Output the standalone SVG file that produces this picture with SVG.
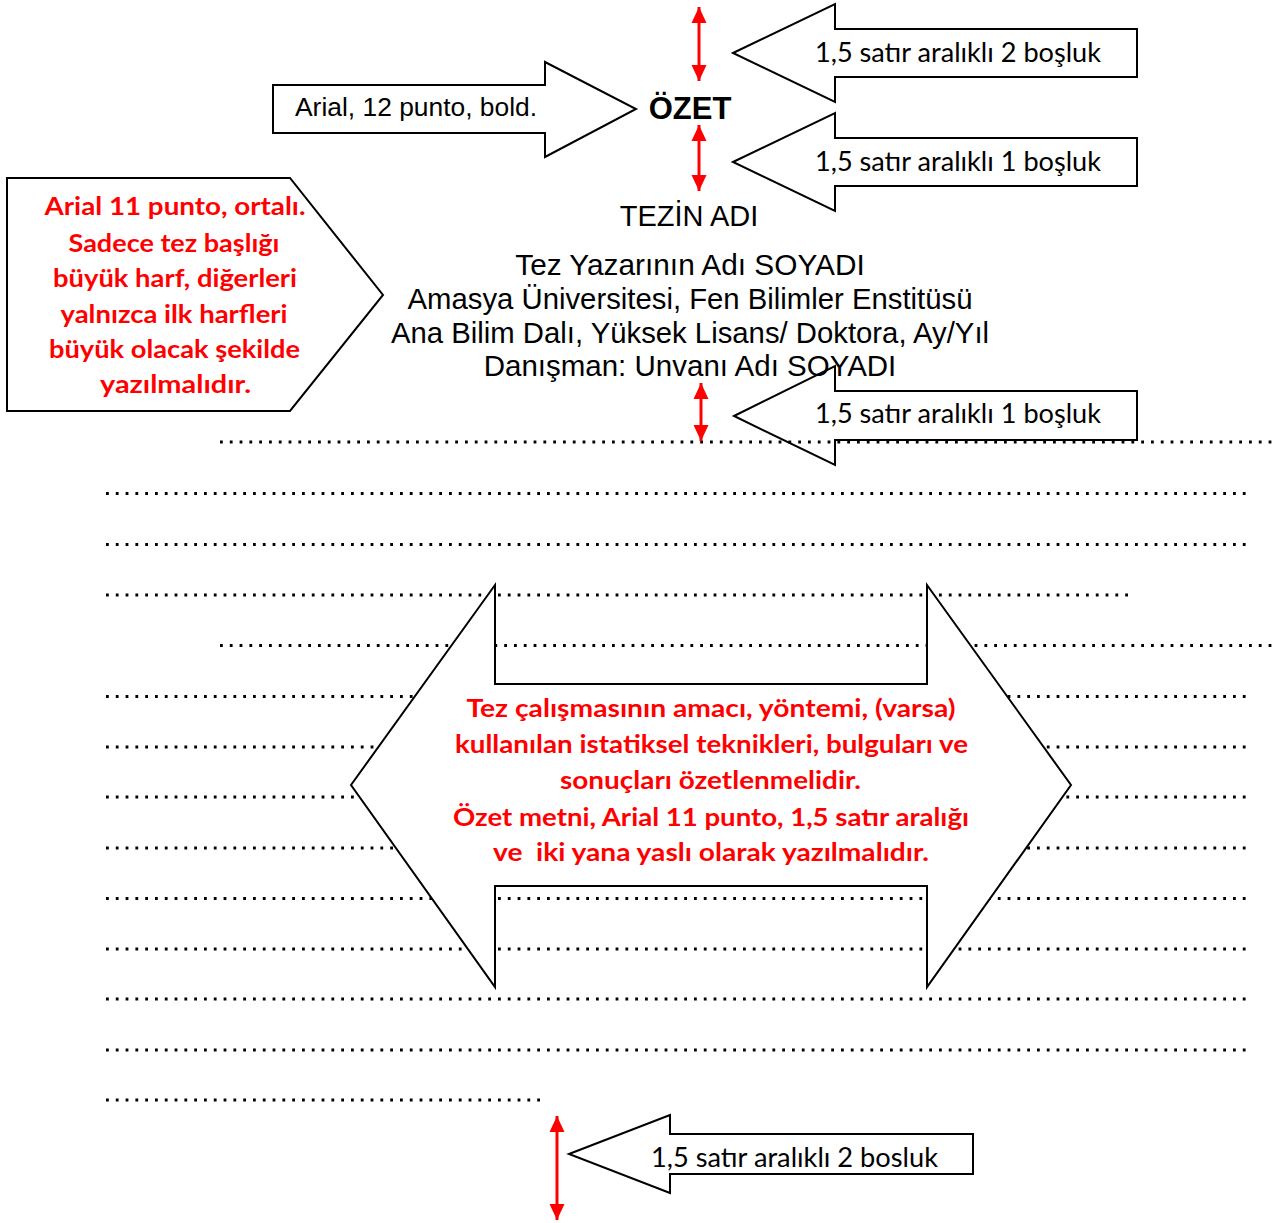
<svg xmlns="http://www.w3.org/2000/svg" width="1276" height="1223" viewBox="0 0 1276 1223">
<defs>
<style>
.shape{fill:#fff;stroke:#000;stroke-width:2;stroke-linejoin:miter}
.open{fill:none;stroke:#000;stroke-width:2}
.dots{stroke:#000;stroke-width:2.8;stroke-dasharray:2.8 7;fill:none}
.red{stroke:#f00;stroke-width:3;fill:none}
.ar{font-family:"Liberation Sans",Arial,sans-serif;fill:#000}
.cal{font-family:Lato,"Open Sans",sans-serif;fill:#000;font-size:26px}
.redb{font-family:Lato,"Open Sans",sans-serif;fill:#f00;font-weight:bold;font-size:25px;text-anchor:middle}
</style>
<marker id="ah" viewBox="0 0 16 16" refX="16" refY="8" markerWidth="16" markerHeight="16" markerUnits="userSpaceOnUse" orient="auto-start-reverse">
<path d="M0,0.5 L16,8 L0,15.5 Z" fill="#f00"/>
</marker>
</defs>
<rect width="1276" height="1223" fill="#fff"/>

<g id="dotted-lines">
<line class="dots" x1="220" y1="442" x2="1272" y2="442"/>
<line class="dots" x1="106" y1="493.5" x2="1246" y2="493.5"/>
<line class="dots" x1="106" y1="544.5" x2="1246" y2="544.5"/>
<line class="dots" x1="106" y1="595" x2="1130" y2="595"/>
<line class="dots" x1="220" y1="645.5" x2="1272" y2="645.5"/>
<line class="dots" x1="106" y1="696.5" x2="1246" y2="696.5"/>
<line class="dots" x1="106" y1="747" x2="1246" y2="747"/>
<line class="dots" x1="106" y1="797" x2="1246" y2="797"/>
<line class="dots" x1="106" y1="848" x2="1246" y2="848"/>
<line class="dots" x1="106" y1="898.5" x2="1246" y2="898.5"/>
<line class="dots" x1="106" y1="949" x2="1246" y2="949"/>
<line class="dots" x1="106" y1="999" x2="1246" y2="999"/>
<line class="dots" x1="106" y1="1050" x2="1246" y2="1050"/>
<line class="dots" x1="106" y1="1100" x2="541" y2="1100"/>
</g>

<g id="center-text" class="ar" text-anchor="middle">
<text x="690" y="119" font-size="31" font-weight="bold">ÖZET</text>
<text x="689" y="226" font-size="29">TEZİN ADI</text>
<text x="690" y="275" font-size="29.8">Tez Yazarının Adı SOYADI</text>
<text x="690" y="309" font-size="29.3">Amasya Üniversitesi, Fen Bilimler Enstitüsü</text>
<text x="690" y="343" font-size="29.3">Ana Bilim Dalı, Yüksek Lisans/ Doktora, Ay/Yıl</text>
<text x="690" y="376" font-size="29.5">Danışman: Unvanı Adı SOYADI</text>
</g>

<g id="node-font-arrow">
<polygon class="shape" points="273,85 545,85 545,62 636,109 545,157 545,133 273,133"/>
<text class="ar" x="295" y="116" font-size="26.4">Arial, 12 punto, bold.</text>
</g>

<g id="node-spacing-top">
<polygon class="shape" points="733,53 835,4 835,29 1137,29 1137,77 835,77 835,102"/>
<text class="cal" x="815" y="62" textLength="286" lengthAdjust="spacingAndGlyphs">1,5 satır aralıklı 2 boşluk</text>
</g>

<g id="node-spacing-ozet">
<polygon class="shape" points="733,162 835,113 835,138 1137,138 1137,186 835,186 835,211"/>
<text class="cal" x="815" y="171" textLength="286" lengthAdjust="spacingAndGlyphs">1,5 satır aralıklı 1 boşluk</text>
</g>

<g id="node-spacing-body">
<polygon class="open" points="734,416 835,366 835,391 1137,391 1137,440 835,440 835,465"/>
<text class="cal" x="815" y="423" textLength="286" lengthAdjust="spacingAndGlyphs">1,5 satır aralıklı 1 boşluk</text>
</g>

<g id="node-title-note">
<polygon class="shape" points="7,178 290,178 383,295 290,411 7,411"/>
<text class="redb" x="175" y="215" textLength="261" lengthAdjust="spacingAndGlyphs">Arial 11 punto, ortalı.</text>
<text class="redb" x="174" y="252" textLength="211" lengthAdjust="spacingAndGlyphs">Sadece tez başlığı</text>
<text class="redb" x="175" y="287" textLength="244" lengthAdjust="spacingAndGlyphs">büyük harf, diğerleri</text>
<text class="redb" x="174" y="323" textLength="227" lengthAdjust="spacingAndGlyphs">yalnızca ilk harfleri</text>
<text class="redb" x="174.5" y="358" textLength="251" lengthAdjust="spacingAndGlyphs">büyük olacak şekilde</text>
<text class="redb" x="175.5" y="393" textLength="151" lengthAdjust="spacingAndGlyphs">yazılmalıdır.</text>
</g>

<g id="node-body-note">
<polygon class="shape" points="351,785 495,585 495,684 927,684 927,585 1071,785 927,987 927,886 495,886 495,987"/>
<text class="redb" x="711" y="717" textLength="489" lengthAdjust="spacingAndGlyphs">Tez çalışmasının amacı, yöntemi, (varsa)</text>
<text class="redb" x="711.5" y="753" textLength="513" lengthAdjust="spacingAndGlyphs">kullanılan istatiksel teknikleri, bulguları ve</text>
<text class="redb" x="710.5" y="789" textLength="301" lengthAdjust="spacingAndGlyphs">sonuçları özetlenmelidir.</text>
<text class="redb" x="711" y="826" textLength="516" lengthAdjust="spacingAndGlyphs">Özet metni, Arial 11 punto, 1,5 satır aralığı</text>
<text class="redb" x="711" y="861" textLength="436" lengthAdjust="spacingAndGlyphs" xml:space="preserve">ve  iki yana yaslı olarak yazılmalıdır.</text>
</g>

<g id="node-spacing-bottom">
<polygon class="shape" points="569,1154 670,1115 670,1134 973,1134 973,1174 670,1174 670,1193"/>
<text class="cal" x="651" y="1167" textLength="287" lengthAdjust="spacingAndGlyphs">1,5 satır aralıklı 2 bosluk</text>
</g>

<g id="connectors">
<line class="red" x1="699" y1="7" x2="699" y2="81" marker-start="url(#ah)" marker-end="url(#ah)"/>
<line class="red" x1="699" y1="125" x2="699" y2="191" marker-start="url(#ah)" marker-end="url(#ah)"/>
<line class="red" x1="701" y1="383" x2="701" y2="441" marker-start="url(#ah)" marker-end="url(#ah)"/>
<line class="red" x1="557" y1="1116" x2="557" y2="1220" marker-start="url(#ah)" marker-end="url(#ah)"/>
</g>
</svg>
